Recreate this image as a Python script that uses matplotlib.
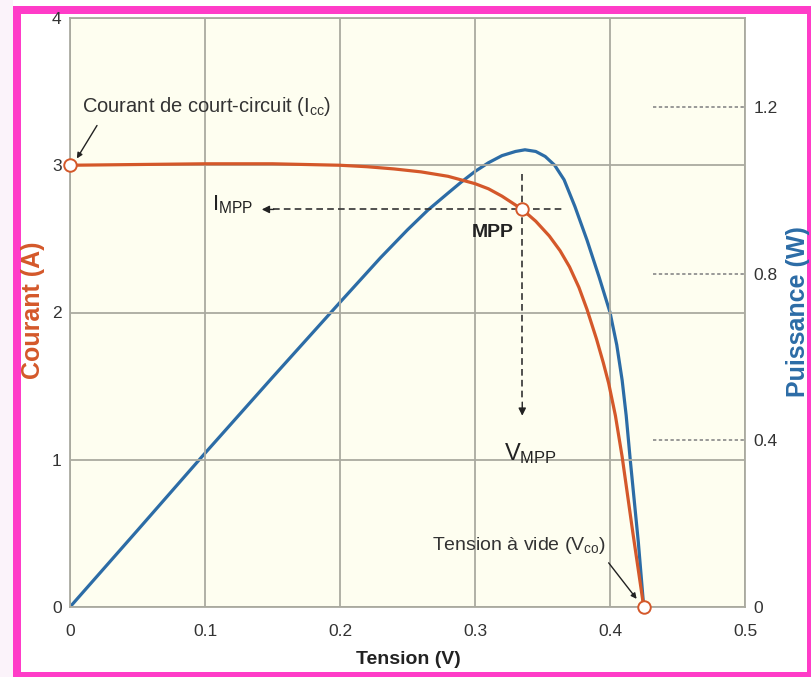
import matplotlib
matplotlib.use("Agg")
import matplotlib.pyplot as plt
from matplotlib.patches import Rectangle

plt.rcParams['font.family'] = ['Liberation Sans', 'DejaVu Sans']
plt.rcParams['mathtext.fontset'] = 'custom'
plt.rcParams['mathtext.rm'] = 'Liberation Sans'
plt.rcParams['mathtext.it'] = 'Liberation Sans:italic'
plt.rcParams['mathtext.bf'] = 'Liberation Sans:bold'

# ---- data ----
voltage_i = [0.0, 0.05, 0.1, 0.15, 0.2, 0.22, 0.24, 0.26, 0.28, 0.29, 0.30, 0.31, 0.32, 0.335,
             0.345, 0.355, 0.363, 0.37, 0.377, 0.383, 0.39, 0.395, 0.399, 0.404, 0.409, 0.413,
             0.417, 0.421, 0.425]
current = [3.0, 3.005, 3.01, 3.01, 3.0, 2.99, 2.975, 2.955, 2.925, 2.90, 2.875, 2.84, 2.79, 2.70,
           2.62, 2.52, 2.42, 2.31, 2.17, 2.02, 1.82, 1.66, 1.52, 1.30, 1.02, 0.76,
           0.50, 0.25, 0.0]

voltage_p = [0.0, 0.05, 0.1, 0.15, 0.2, 0.23, 0.25, 0.265, 0.28, 0.29, 0.30, 0.31, 0.32, 0.33,
             0.337, 0.345, 0.352, 0.359, 0.366, 0.374, 0.383, 0.392, 0.4, 0.405, 0.409, 0.412,
             0.415, 0.418, 0.421, 0.425]
power = [0.0, 0.184, 0.369, 0.551, 0.731, 0.838, 0.905, 0.952, 0.993, 1.020, 1.045, 1.066, 1.083, 1.093,
         1.097, 1.093, 1.081, 1.060, 1.025, 0.961, 0.880, 0.791, 0.707, 0.629, 0.544, 0.459,
         0.353, 0.254, 0.155, 0.0]

x_ticks = [0, 0.1, 0.2, 0.3, 0.4, 0.5]
x_labels = ['0', '0.1', '0.2', '0.3', '0.4', '0.5']
i_ticks = [0, 1, 2, 3, 4]
p_ticks = [0, 0.4, 0.8, 1.2]
p_labels = ['0', '0.4', '0.8', '1.2']

isc_point = (0.0, 3.0)
mpp_point = (0.335, 2.70)
voc_point = (0.425, 0.0)

ORANGE = '#d4582a'
BLUE = '#2c6ca6'
GRID = '#aaaaa0'
TXT = '#333333'

fig = plt.figure(figsize=(8.11, 6.77), dpi=100)
fig.patch.set_facecolor('white')

H = 677.0
W = 811.0
fig.patches.append(Rectangle((0, 0), 13 / W, 1, transform=fig.transFigure,
                             facecolor='#fbf3fa', edgecolor='none', zorder=-2))
for (x0, y0, w, h) in [(13, 0, 8, 671), (13, 663, 798, 8), (13, 0, 798, 5), (807, 0, 4, 671)]:
    fig.patches.append(Rectangle((x0 / W, y0 / H), w / W, h / H, transform=fig.transFigure,
                                 facecolor='#ff3cc8', edgecolor='none', zorder=-1))

ax = fig.add_axes([70 / W, (H - 607) / H, 675 / W, 589 / H])
ax.set_xlim(0, 0.5)
ax.set_ylim(0, 4)
ax.set_xticks(x_ticks)
ax.set_xticklabels(x_labels)
ax.set_yticks(i_ticks)
ax.tick_params(axis='both', length=0, labelsize=12.5, labelcolor=TXT)
ax.tick_params(axis='x', pad=12)
ax.tick_params(axis='y', pad=6)
for s in ax.spines.values():
    s.set_color(GRID)
    s.set_linewidth(1.3)
ax.grid(True, color=GRID, linewidth=1.3)
ax.set_axisbelow(True)

ax2 = ax.twinx()
ax2.set_ylim(0, 4 * 0.3533)
ax2.set_yticks(p_ticks)
ax2.set_yticklabels(p_labels)
ax2.tick_params(axis='y', length=0, labelsize=12.5, labelcolor=TXT, pad=6)
for s in ax2.spines.values():
    s.set_visible(False)
ax2.hlines(p_ticks[1:], 0.432, 0.5, colors='#888888', linestyles=(0, (2, 1.5)), linewidth=1.2, zorder=1)
ax2.plot(voltage_p, power, color=BLUE, linewidth=2.3, zorder=3)

ax.set_zorder(ax2.get_zorder() + 1)
ax.patch.set_visible(False)
ax2.patch.set_visible(True)
ax2.patch.set_facecolor('#fefef0')

ax.plot(voltage_i, current, color=ORANGE, linewidth=2.3, zorder=3)

for px, py in [isc_point, mpp_point, voc_point]:
    ax.plot(px, py, marker='o', markersize=9, markerfacecolor='white',
            markeredgecolor=ORANGE, markeredgewidth=1.4, zorder=5, clip_on=False)

# MPP dashed guides
ax.plot([0.150, 0.367], [mpp_point[1], mpp_point[1]], color='#333333', linestyle=(0, (4, 2.5)), linewidth=1.2, zorder=4)
ax.annotate('', xy=(0.140, mpp_point[1]), xytext=(0.153, mpp_point[1]),
            arrowprops=dict(arrowstyle='-|>', color='#222222', lw=1.0, mutation_scale=11), zorder=4)
ax.plot([mpp_point[0], mpp_point[0]], [2.94, 1.40], color='#333333', linestyle=(0, (4, 2.5)), linewidth=1.2, zorder=4)
ax.annotate('', xy=(mpp_point[0], 1.28), xytext=(mpp_point[0], 1.41),
            arrowprops=dict(arrowstyle='-|>', color='#222222', lw=1.0, mutation_scale=11), zorder=4)

ax.text(0.105, mpp_point[1] + 0.03, r'I$_{\mathrm{MPP}}$', fontsize=16, color='#222222', va='center', ha='left')
ax.text(0.341, 1.04, r'V$_{\mathrm{MPP}}$', fontsize=17, color='#222222', va='center', ha='center')
ax.text(0.313, 2.54, 'MPP', fontsize=14, fontweight='bold', color='#222222', va='center', ha='center')

ax.text(0.009, 3.40, r'Courant de court-circuit (I$_{\mathrm{cc}}$)', fontsize=14.5, color='#333333', ha='left', va='center')
ax.annotate('', xy=(0.004, 3.03), xytext=(0.020, 3.27),
            arrowprops=dict(arrowstyle='-|>', color='#222222', lw=1.0, mutation_scale=8, shrinkA=0, shrinkB=2))
ax.text(0.333, 0.42, r'Tension à vide (V$_{\mathrm{co}}$)', fontsize=14, color='#333333', ha='center', va='center')
ax.annotate('', xy=(0.421, 0.04), xytext=(0.399, 0.30),
            arrowprops=dict(arrowstyle='-|>', color='#222222', lw=1.0, mutation_scale=8, shrinkA=0, shrinkB=2))

fig.text(408 / W, 1 - 660 / H, 'Tension (V)', fontsize=14, fontweight='bold', color='#222222', ha='center', va='center')
fig.text(33 / W, 1 - 310 / H, 'Courant (A)', fontsize=18, fontweight='bold', color=ORANGE, ha='center', va='center', rotation=90)
fig.text(798 / W, 1 - 312 / H, 'Puissance (W)', fontsize=18, fontweight='bold', color=BLUE, ha='center', va='center', rotation=90)

fig.savefig('out.png', dpi=100)
